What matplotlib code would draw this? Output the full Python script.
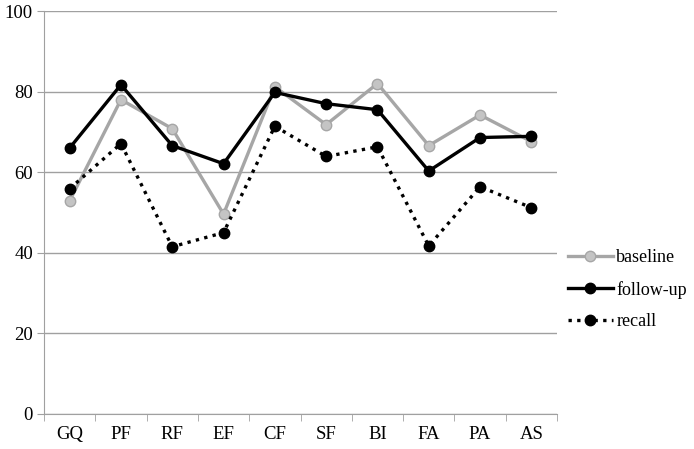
import matplotlib
matplotlib.use("Agg")
import matplotlib.pyplot as plt

categories = ["GQ", "PF", "RF", "EF", "CF", "SF", "BI", "FA", "PA", "AS"]
baseline = [52.9, 78.0, 70.8, 49.6, 81.2, 71.8, 82.0, 66.6, 74.2, 67.6]
follow_up = [66.0, 81.7, 66.6, 62.1, 79.8, 77.0, 75.5, 60.3, 68.6, 68.9]
recall = [55.9, 67.1, 41.5, 45.0, 71.4, 63.9, 66.3, 41.7, 56.4, 51.2]

plt.rcParams.update({
    "font.family": "serif",
    "font.serif": ["Liberation Serif", "DejaVu Serif"],
    "font.size": 13.5,
})

fig = plt.figure(figsize=(6.94, 4.49), dpi=100)
ax = fig.add_axes([0.0634, 0.078, 0.7392, 0.8975])

x = range(len(categories))
ax.plot(x, baseline, color="#a6a6a6", linewidth=2.4, marker="o", markersize=7.5,
        markerfacecolor="#c4c4c4", markeredgecolor="#a6a6a6", label="baseline", zorder=3)
ax.plot(x, follow_up, color="black", linewidth=2.4, marker="o", markersize=7.5,
        label="follow-up", zorder=4)
ax.plot(x, recall, color="black", linewidth=2.4, linestyle=(0, (1, 1.6)), marker="o",
        markersize=7.5, label="recall", zorder=4)

ax.set_xlim(-0.5, len(categories) - 0.5)
ax.set_ylim(0, 100)
ax.set_yticks(range(0, 101, 20))
ax.set_xticks(x)
ax.set_xticklabels(categories)
ax.set_xticks([i + 0.5 for i in range(-1, len(categories))], minor=True)
ax.tick_params(axis="x", which="major", length=0, pad=9)
ax.tick_params(axis="x", which="minor", length=5, color="#a0a0a0")
ax.tick_params(axis="y", length=5, color="#a0a0a0", pad=3)
ax.grid(axis="y", color="#a0a0a0", linewidth=1)
ax.set_axisbelow(True)
for s in ["top", "right"]:
    ax.spines[s].set_visible(False)
for s in ["left", "bottom"]:
    ax.spines[s].set_color("#a0a0a0")

fig.legend(loc="center left", bbox_to_anchor=(0.818, 0.355), frameon=False,
           borderpad=0, borderaxespad=0,
           handlelength=2.5, handletextpad=0.2, labelspacing=0.8, fontsize=13)

fig.savefig("out.png", dpi=100)
